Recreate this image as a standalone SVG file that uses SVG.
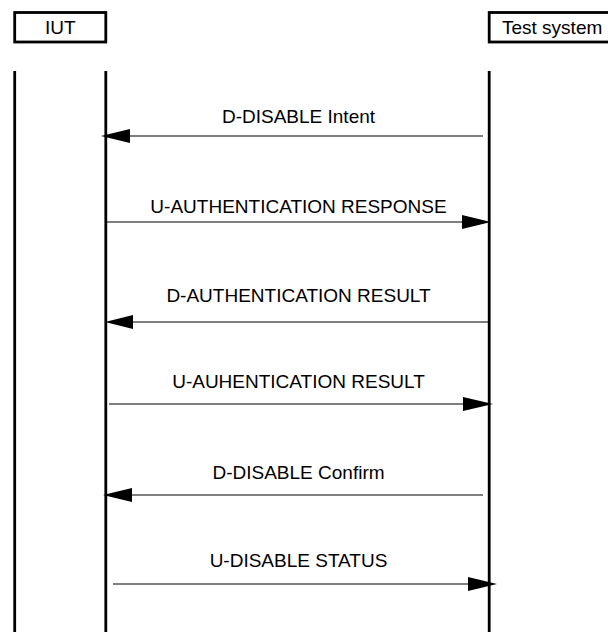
<svg xmlns="http://www.w3.org/2000/svg" width="608" height="632" viewBox="0 0 608 632">
<style>
text{font-family:"Liberation Sans",Arial,sans-serif;font-size:19px;fill:#000}
.box{fill:#fff;stroke:#000;stroke-width:2.8}
.life{stroke:#000;stroke-width:2.8;fill:none}
.msg{stroke:#000;stroke-width:1.2;fill:none}
.head{fill:#000;stroke:none}
</style>
<rect width="608" height="632" fill="#fff"/>
<g id="lifelines">
<line class="life" x1="14.7" y1="71" x2="14.7" y2="632"/>
<line class="life" x1="105.8" y1="71" x2="105.8" y2="632"/>
<line class="life" x1="489.2" y1="71" x2="489.2" y2="632"/>
</g>
<g id="node-iut">
<rect class="box" x="14.7" y="12.5" width="91.1" height="29.5"/>
<text x="60.2" y="34" text-anchor="middle">IUT</text>
</g>
<g id="node-test-system">
<rect class="box" x="489.2" y="12.5" width="125" height="29.5"/>
<text x="502" y="34">Test system</text>
</g>
<g id="connectors">
<line class="msg" x1="483" y1="136" x2="128" y2="136"/>
<polygon class="head" points="101,136 130,129 130,143"/>
<text x="298.5" y="123" text-anchor="middle">D-DISABLE Intent</text>

<line class="msg" x1="106" y1="222" x2="464" y2="222"/>
<polygon class="head" points="491,222 462,215 462,229"/>
<text x="298.5" y="213" text-anchor="middle">U-AUTHENTICATION RESPONSE</text>

<line class="msg" x1="489" y1="322" x2="131" y2="322"/>
<polygon class="head" points="105,322 133,315 133,329"/>
<text x="298.5" y="302" text-anchor="middle">D-AUTHENTICATION RESULT</text>

<line class="msg" x1="109" y1="404" x2="465" y2="404"/>
<polygon class="head" points="493,404 463,397 463,411"/>
<text x="298.5" y="388" text-anchor="middle">U-AUHENTICATION RESULT</text>

<line class="msg" x1="483" y1="495" x2="130" y2="495"/>
<polygon class="head" points="103,495 132,488 132,502"/>
<text x="298.5" y="479" text-anchor="middle">D-DISABLE Confirm</text>

<line class="msg" x1="113" y1="584" x2="470" y2="584"/>
<polygon class="head" points="497,584 468,577 468,591"/>
<text x="298.5" y="567" text-anchor="middle">U-DISABLE STATUS</text>
</g>
</svg>
